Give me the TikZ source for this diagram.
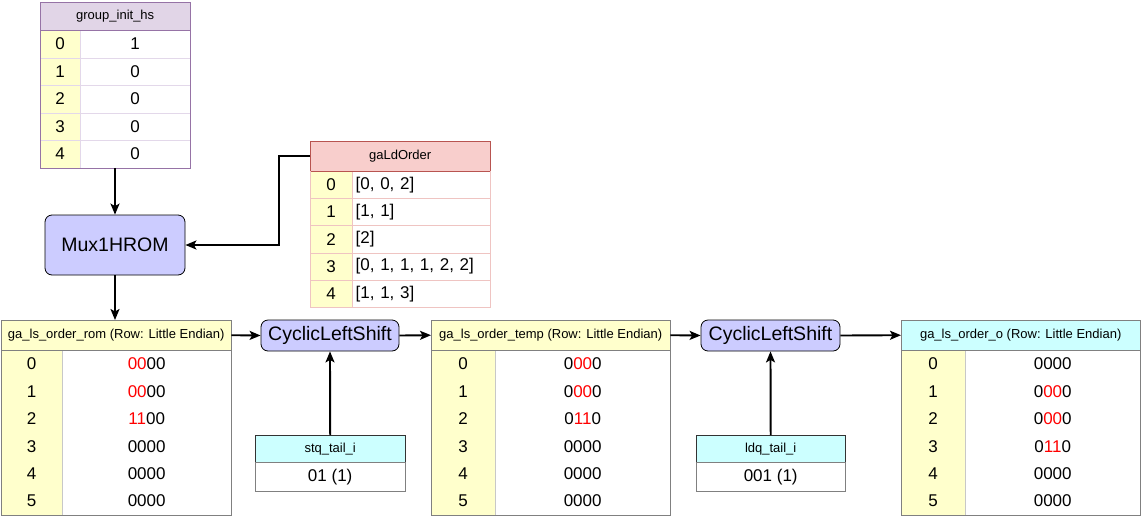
\documentclass[tikz,border=0pt]{standalone}
\usepackage{fontspec}
\setmainfont{Liberation Sans}
\usetikzlibrary{arrows.meta,positioning}

\definecolor{cellyellow}{HTML}{FFFFCC}
\definecolor{hdrcyan}{HTML}{CCFFFF}
\definecolor{hdrpurple}{HTML}{E1D5E7}
\definecolor{linepurple}{HTML}{9673A6}
\definecolor{rowpurple}{HTML}{E3D8EA}
\definecolor{hdrred}{HTML}{F8CECC}
\definecolor{linered}{HTML}{B85450}
\definecolor{rowred}{HTML}{EFC4C2}
\definecolor{procblue}{HTML}{CCCCFF}
\definecolor{tblgrey}{HTML}{808080}
\definecolor{divgrey}{HTML}{C8C8C8}

\newcommand{\rd}[1]{\textcolor{red}{#1}}

\tikzset{
  hdr/.style={anchor=north west, inner sep=0pt, minimum height=30pt,
    font=\fontsize{13}{15}\selectfont},
  cell/.style={anchor=north west, inner sep=0pt, minimum height=27.5pt,
    font=\fontsize{17}{20}\selectfont},
  proc/.style={draw=black, fill=procblue, rounded corners=7pt, inner sep=0pt,
    line width=0.8pt, font=\fontsize{19.5}{23}\selectfont},
  wire/.style={-{Stealth[length=11pt,width=9pt,inset=2.5pt]}, line width=1.9pt},
  border/.style={line width=0.8pt}
}

\begin{document}
\begin{tikzpicture}[x=1pt,y=-1pt]
  \useasboundingbox (0,0) rectangle (1141,515);

  % group_init_hs
  \node[hdr, fill=hdrpurple, minimum width=150pt, minimum height=28pt] (ginit-h) at (40,2) {group\_init\_hs};
  \foreach \v [count=\i from 0] in {1,0,0,0,0} {
    \node[cell, fill=cellyellow, draw=rowpurple, minimum width=40pt] (ginit-i\i) at (40,{30+27.5*\i}) {\i};
    \node[cell, draw=rowpurple, minimum width=110pt] (ginit-v\i) at (80,{30+27.5*\i}) {\v};
  }
  \draw[border, linepurple] (ginit-h.north west) rectangle (ginit-v4.south east);
  \draw[border, linepurple] (ginit-h.south west) -- (ginit-h.south east);

  % gaLdOrder
  \node[hdr, fill=hdrred, minimum width=180pt] (gald-h) at (310,141) {gaLdOrder};
  \foreach \v [count=\i from 0] in {{[0, 0, 2]},{[1, 1]},{[2]},{[0, 1, 1, 1, 2, 2]},{[1, 1, 3]}} {
    \node[cell, fill=cellyellow, draw=rowred, minimum width=42pt, minimum height=27.2pt] (gald-i\i) at (310,{171+27.2*\i}) {\i};
    \node[cell, draw=rowred, minimum height=27.2pt, text width=131pt, inner xsep=3.5pt, align=left] (gald-v\i) at (352,{171+27.2*\i}) {\v};
  }
  \draw[border, linered] (gald-h.north west) rectangle (gald-h.south east);
  \draw[border, rowred] (gald-i4.south west) -- (gald-v4.south east) -- (gald-h.south east);
  \draw[border, rowred] (gald-h.south west) -- (gald-i4.south west);

  % Mux1HROM
  \node[proc, minimum width=140pt, minimum height=60pt] (mux) at (115,245) {Mux1HROM};

  % ga_ls_order_rom
  \node[hdr, fill=cellyellow, minimum width=230pt] (rom-h) at (1,320) {ga\_ls\_order\_rom (Row: Little Endian)};
  \foreach \v [count=\i from 0] in {{\rd{00}00},{\rd{00}00},{\rd{11}00},0000,0000,0000} {
    \node[cell, fill=cellyellow, minimum width=61pt] (rom-i\i) at (1,{350+27.4*\i}) {\i};
    \node[cell, minimum width=169pt] (rom-v\i) at (62,{350+27.4*\i}) {\v};
  }
  \draw[border, divgrey] (rom-v0.north west) -- (rom-v5.south west);
  \draw[border, tblgrey] (rom-h.south west) -- (rom-h.south east);
  \draw[border, tblgrey] (rom-h.north west) rectangle (rom-v5.south east);

  % first shift
  \node[proc, minimum width=138pt, minimum height=31pt] (shift1) at (330,335.5) {CyclicLeftShift};
  \node[hdr, fill=hdrcyan, minimum width=150pt, minimum height=27pt] (stq-h) at (255,435) {stq\_tail\_i};
  \node[cell, minimum width=150pt, minimum height=28pt] (stq-v) at (255,463) {01 (1)};
  \draw[border, black!80] (stq-h.north west) rectangle (stq-h.south east);
  \draw[border, tblgrey] (stq-h.south west) rectangle (stq-v.south east);

  % ga_ls_order_temp
  \node[hdr, fill=cellyellow, minimum width=239pt] (tmp-h) at (431,320) {ga\_ls\_order\_temp (Row: Little Endian)};
  \foreach \v [count=\i from 0] in {{0\rd{00}0},{0\rd{00}0},{0\rd{11}0},0000,0000,0000} {
    \node[cell, fill=cellyellow, minimum width=64pt] (tmp-i\i) at (431,{350+27.4*\i}) {\i};
    \node[cell, minimum width=175pt] (tmp-v\i) at (495,{350+27.4*\i}) {\v};
  }
  \draw[border, divgrey] (tmp-v0.north west) -- (tmp-v5.south west);
  \draw[border, tblgrey] (tmp-h.south west) -- (tmp-h.south east);
  \draw[border, tblgrey] (tmp-h.north west) rectangle (tmp-v5.south east);

  % second shift
  \node[proc, minimum width=139pt, minimum height=31pt] (shift2) at (770.5,335.5) {CyclicLeftShift};
  \node[hdr, fill=hdrcyan, minimum width=149pt, minimum height=27pt] (ldq-h) at (696,435) {ldq\_tail\_i};
  \node[cell, minimum width=149pt, minimum height=28pt] (ldq-v) at (696,463) {001 (1)};
  \draw[border, black!80] (ldq-h.north west) rectangle (ldq-h.south east);
  \draw[border, tblgrey] (ldq-h.south west) rectangle (ldq-v.south east);

  % ga_ls_order_o
  \node[hdr, fill=hdrcyan, minimum width=239pt] (out-h) at (901,320) {ga\_ls\_order\_o (Row: Little Endian)};
  \foreach \v [count=\i from 0] in {0000,{0\rd{00}0},{0\rd{00}0},{0\rd{11}0},0000,0000} {
    \node[cell, fill=cellyellow, minimum width=64pt] (out-i\i) at (901,{350+27.4*\i}) {\i};
    \node[cell, minimum width=175pt] (out-v\i) at (965,{350+27.4*\i}) {\v};
  }
  \draw[border, divgrey] (out-v0.north west) -- (out-v5.south west);
  \draw[border, tblgrey] (out-h.south west) -- (out-h.south east);
  \draw[border, tblgrey] (out-h.north west) rectangle (out-v5.south east);

  % connectors
  \draw[wire] (ginit-v4.south west) ++(35,0) -- (mux.north);
  \draw[wire] (gald-h.west) -- ++(-31,0) |- (mux.east);
  \draw[wire] (mux.south) -- (mux.south |- rom-h.north);
  \draw[wire] (rom-h.east) -- (shift1.west);
  \draw[wire] (stq-h.north) -- (shift1.south);
  \draw[wire] (shift1.east) -- (tmp-h.west);
  \draw[wire] (tmp-h.east) -- (shift2.west);
  \draw[wire] (ldq-h.north) -- (shift2.south);
  \draw[wire] (shift2.east) -- (out-h.west);
\end{tikzpicture}
\end{document}
